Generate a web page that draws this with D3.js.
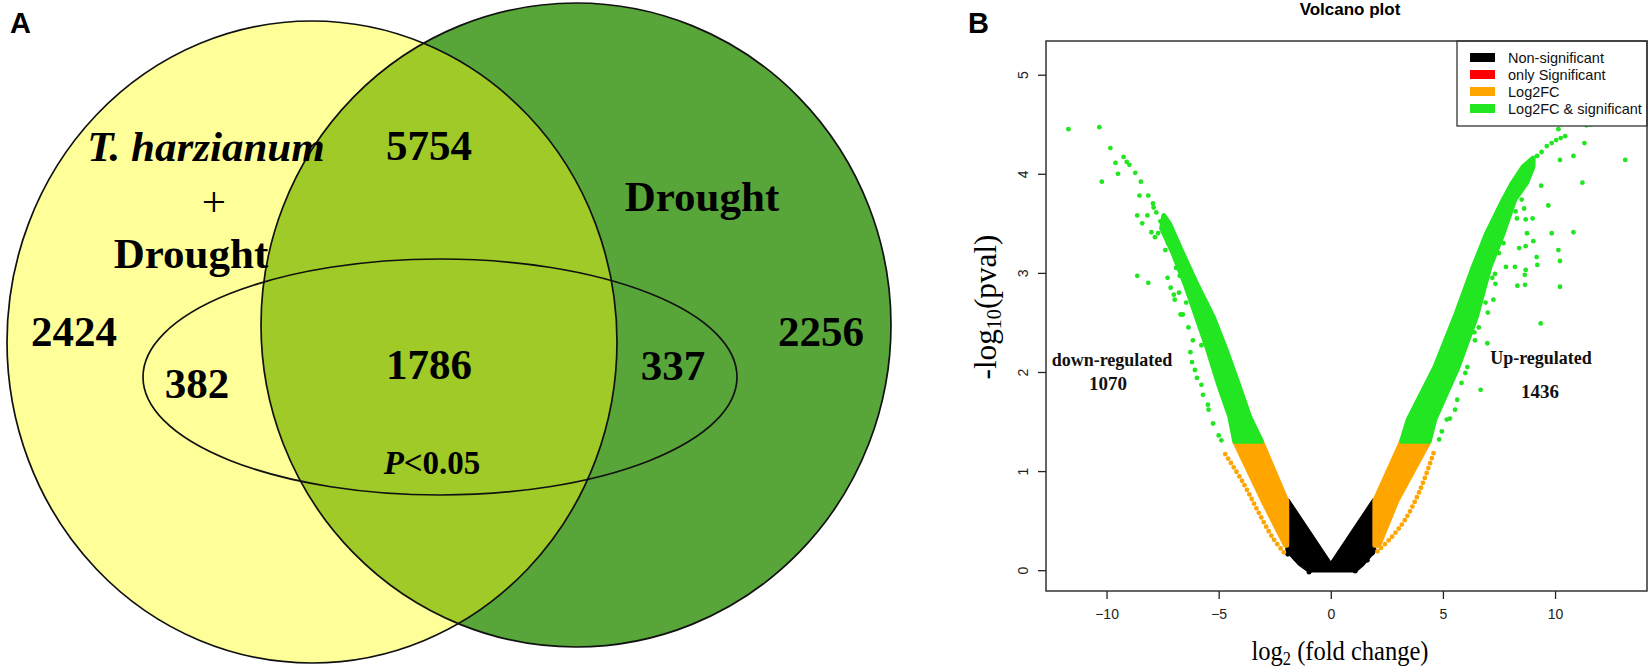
<!DOCTYPE html>
<html>
<head>
<meta charset="utf-8">
<script src="https://cdn.jsdelivr.net/npm/d3@7"></script>
<style>
  body { margin: 0; background: #fff; }
  svg { display: block; }
</style>
</head>
<body>
<div id="chart"></div>
<script>
// ---------- panel A : Venn counts ----------
const vennRegions = ["thOnly", "both", "droughtOnly", "thP", "allP", "droughtP"]
const vennValues = [2424, 5754, 2256, 382, 1786, 337]

// ---------- panel B : volcano plot ----------
const xTicks = [-10, -5, 0, 5, 10]
const yTicks = [0, 1, 2, 3, 4, 5]
const xDomain = [-12.7, 14.1]
const yDomain = [-0.21, 5.34]
const legendLabels = ["Non-significant", "only Significant", "Log2FC", "Log2FC & significant"]
const legendColors = ["#000000", "#ff0000", "#ffa500", "#22e622"]
const regCounts = { down: 1070, up: 1436 }

// dense clouds of points, read as outlines of point centres (log2FC, -log10 p)
const blackCloud = [[-1.92, 0.70], [0, 0.05], [1.92, 0.70], [1.92, 0.20], [1.4, 0.06], [1.09, 0.0],
  [-0.97, 0.0], [-1.4, 0.07], [-1.92, 0.20]]
const orangeCloudLeft = [[-1.96, 0.70], [-3.09, 1.30], [-4.29, 1.30], [-3.03, 0.70], [-2.02, 0.25], [-1.96, 0.25]]
const orangeCloudRight = [[1.96, 0.70], [3.15, 1.30], [4.39, 1.30], [2.95, 0.70], [2.14, 0.25], [1.96, 0.25]]
const greenCloudLeft = [[-3.09, 1.30], [-3.62, 1.55], [-4.14, 1.89], [-4.66, 2.22], [-5.25, 2.56], [-6.0, 2.90],
  [-6.67, 3.23], [-7.2, 3.50], [-7.45, 3.58], [-7.55, 3.45], [-7.04, 3.20], [-6.52, 2.90], [-6.0, 2.56],
  [-5.48, 2.22], [-5.03, 1.89], [-4.51, 1.55], [-4.29, 1.30]]
const greenCloudRight = [[3.15, 1.30], [3.45, 1.52], [4.64, 2.05], [5.54, 2.56], [6.35, 3.06], [6.95, 3.40],
  [7.69, 3.74], [8.10, 3.91], [8.57, 4.07], [9.03, 4.16], [9.02, 4.07], [8.74, 3.91], [8.21, 3.74],
  [7.69, 3.40], [7.10, 3.06], [6.50, 2.56], [5.68, 2.05], [4.64, 1.52], [4.39, 1.30]]

// chains of orange points just outside the clouds
const orangeChainLeft = [[-2.1, 0.18], [-2.6, 0.33], [-3.26, 0.60], [-3.93, 0.89], [-4.79, 1.20]]
const orangeChainRight = [[2.08, 0.19], [2.7, 0.33], [3.34, 0.52], [4.0, 0.82], [4.61, 1.20]]

const blackPoints = [[-1.92, 0.16], [-1.69, 0.17], [-1.6, 0.12], [-0.97, -0.02], [-0.9, 0.0],
  [1.09, -0.01], [1.63, 0.10], [1.85, 0.17]]

const greenPointsLeft = [[-11.7, 4.45], [-10.32, 4.47], [-9.83, 4.26], [-9.6, 4.11], [-9.49, 4.0], [-10.21, 3.92],
  [-9.24, 4.17], [-9.1, 4.12], [-8.98, 4.09], [-8.72, 4.01], [-8.47, 3.92], [-8.53, 3.78], [-8.14, 3.78],
  [-7.93, 3.70], [-7.90, 3.66], [-7.78, 3.61], [-8.63, 3.58], [-8.18, 3.58], [-8.41, 3.50], [-8.0, 3.41],
  [-7.84, 3.36], [-7.38, 3.23], [-8.63, 2.97], [-8.14, 2.90], [-7.28, 2.95], [-7.14, 2.85], [-6.96, 2.73],
  [-7.0, 2.78], [-6.74, 2.97], [-6.77, 2.80], [-6.70, 2.58], [-6.6, 2.58], [-6.15, 2.32], [-5.77, 2.27],
  [-6.26, 2.20], [-6.19, 2.10], [-6.06, 2.02], [-5.97, 1.94], [-5.77, 1.87], [-5.70, 1.77], [-5.48, 1.67],
  [-5.45, 1.62], [-5.25, 1.48], [-5.0, 1.36], [-4.88, 1.31], [-7.6, 3.52], [-7.7, 3.40], [-7.25, 3.30],
  [-6.9, 3.05], [-6.45, 2.70], [-6.35, 2.45], [-6.9, 3.15]]

const greenPointsRight = [[13.13, 4.14], [11.31, 4.31], [10.82, 4.18], [10.22, 4.14], [11.22, 3.91], [9.38, 3.88],
  [9.7, 3.68], [8.51, 3.74], [8.62, 3.65], [8.24, 3.62], [9.0, 3.55], [8.69, 3.54], [8.3, 3.55], [9.85, 3.40],
  [10.82, 3.41], [8.75, 3.40], [9.03, 3.32], [8.69, 3.27], [8.4, 3.25], [10.15, 3.23], [10.22, 3.12],
  [9.18, 3.16], [9.21, 3.08], [8.69, 3.03], [8.65, 2.98], [8.21, 3.06], [7.81, 3.06], [7.32, 2.99],
  [8.32, 2.87], [8.66, 2.88], [10.22, 2.86], [7.34, 2.89], [7.25, 2.73], [9.36, 2.49], [6.98, 2.29],
  [6.43, 2.32], [6.4, 2.40], [6.6, 2.45], [6.09, 2.05], [6.0, 1.99], [5.83, 1.89], [5.64, 1.72],
  [5.54, 1.62], [6.68, 1.82], [5.31, 1.53], [5.17, 1.52], [4.95, 1.40], [4.83, 1.32],
  [9.2, 4.18], [9.4, 4.22], [9.63, 4.28], [9.85, 4.31], [10.05, 4.34], [10.25, 4.36], [10.45, 4.38],
  [10.15, 4.45], [11.4, 4.49], [11.6, 4.50], [7.5, 3.2], [7.7, 3.3], [7.2, 2.95], [6.9, 2.7], [7.0, 2.6]]

const W = 1650, H = 668
const serif = "'Liberation Serif', 'Times New Roman', serif"
const sans = "'Liberation Sans', Arial, sans-serif"

const svg = d3.select("#chart").append("svg")
  .attr("width", W).attr("height", H)
  .attr("viewBox", [0, 0, W, H])

// ================= panel A =================
const yellowE = { cx: 312, cy: 342, rx: 305, ry: 321 }
const greenE = { cx: 576, cy: 325, rx: 315, ry: 322 }
const pE = { cx: 440, cy: 377, rx: 297, ry: 118 }

const venn = svg.append("g")

svg.append("defs").append("clipPath").attr("id", "greenClip")
  .append("ellipse").attr("cx", greenE.cx).attr("cy", greenE.cy).attr("rx", greenE.rx).attr("ry", greenE.ry)

function ell(g, e) {
  return g.append("ellipse").attr("cx", e.cx).attr("cy", e.cy).attr("rx", e.rx).attr("ry", e.ry)
}
ell(venn, yellowE).attr("fill", "#ffff99")
ell(venn, greenE).attr("fill", "#58a63a")
ell(venn, yellowE).attr("fill", "#9fca28").attr("clip-path", "url(#greenClip)")
for (const e of [yellowE, greenE, pE]) {
  ell(venn, e).attr("fill", "none").attr("stroke", "#111").attr("stroke-width", 1.7)
}

// set names
const setLab = venn.append("g").attr("font-family", serif).attr("font-weight", "bold")
  .attr("font-size", 43).attr("text-anchor", "middle").attr("fill", "#000")
setLab.append("text").attr("x", 206).attr("y", 161).attr("font-style", "italic").text("T. harzianum")
setLab.append("text").attr("x", 214).attr("y", 216).attr("font-weight", "normal").text("+")
setLab.append("text").attr("x", 191).attr("y", 268).text("Drought")
setLab.append("text").attr("x", 702).attr("y", 211).text("Drought")

// region counts
const regionPos = {
  thOnly: [74, 346], both: [429, 160], droughtOnly: [821, 346],
  thP: [197, 398], allP: [429, 379], droughtP: [673, 380]
}
venn.append("g").attr("font-family", serif).attr("font-weight", "bold")
  .attr("font-size", 43).attr("text-anchor", "middle")
  .selectAll("text").data(vennRegions).join("text")
  .attr("x", d => regionPos[d][0]).attr("y", d => regionPos[d][1])
  .text((d, i) => vennValues[i])

const pLab = venn.append("text").attr("x", 432).attr("y", 474).attr("text-anchor", "middle")
  .attr("font-family", serif).attr("font-weight", "bold").attr("font-size", 33)
pLab.append("tspan").attr("font-style", "italic").text("P")
pLab.append("tspan").text("<0.05")

svg.append("text").attr("x", 10).attr("y", 33).attr("font-family", sans).attr("font-weight", "bold")
  .attr("font-size", 29).text("A")

// ================= panel B =================
const plot = { left: 1046, right: 1647, top: 41, bottom: 591 }
const x = d3.scaleLinear().domain(xDomain).range([plot.left, plot.right])
const y = d3.scaleLinear().domain(yDomain).range([plot.bottom, plot.top])

const vol = svg.append("g")
const cloudLine = d3.line().x(d => x(d[0])).y(d => y(d[1])).curve(d3.curveLinearClosed)
const chainLine = d3.line().x(d => x(d[0])).y(d => y(d[1])).curve(d3.curveCatmullRom)
const dotR = 2.4

function cloud(pts, color) {
  vol.append("path").datum(pts).attr("d", cloudLine)
    .attr("fill", color).attr("stroke", color)
    .attr("stroke-width", dotR * 2).attr("stroke-linejoin", "round")
}
function chain(pts, color) {
  vol.append("path").datum(pts).attr("d", chainLine)
    .attr("fill", "none").attr("stroke", color)
    .attr("stroke-width", dotR * 2).attr("stroke-linecap", "round")
    .attr("stroke-dasharray", "0 5.2")
}
function dots(pts, color) {
  vol.append("g").attr("fill", color).selectAll("circle").data(pts).join("circle")
    .attr("cx", d => x(d[0])).attr("cy", d => y(d[1])).attr("r", dotR)
}

cloud(blackCloud, legendColors[0])
dots(blackPoints, legendColors[0])
cloud(orangeCloudLeft, legendColors[2])
cloud(orangeCloudRight, legendColors[2])
chain(orangeChainLeft, legendColors[2])
chain(orangeChainRight, legendColors[2])
cloud(greenCloudLeft, legendColors[3])
cloud(greenCloudRight, legendColors[3])
dots(greenPointsLeft, legendColors[3])
dots(greenPointsRight, legendColors[3])

// axes
const yAxis = svg.append("g").attr("transform", `translate(${plot.left},0)`)
  .call(d3.axisLeft(y).tickValues(yTicks).tickSize(8).tickFormat(d3.format("d")))
yAxis.select(".domain").remove()
yAxis.selectAll("text").attr("x", 0).attr("y", -18).attr("dy", 0)
  .attr("transform", "rotate(-90)").attr("text-anchor", "middle")

const xAxis = svg.append("g").attr("transform", `translate(0,${plot.bottom})`)
  .call(d3.axisBottom(x).tickValues(xTicks).tickSize(8).tickFormat(d3.format("d")))
xAxis.select(".domain").remove()
xAxis.selectAll("text").attr("y", 18)

svg.selectAll(".tick line").attr("stroke", "#222").attr("stroke-width", 1.3)
svg.selectAll(".tick text").attr("font-family", sans).attr("font-size", 14).attr("fill", "#222")

// legend
const leg = svg.append("g")
leg.append("rect").attr("x", 1457).attr("y", plot.top).attr("width", plot.right - 1457).attr("height", 85)
  .attr("fill", "#fff").attr("stroke", "#333").attr("stroke-width", 1.3)
const legRow = leg.selectAll("g").data(legendLabels).join("g")
  .attr("transform", (d, i) => `translate(1470,${57.5 + i * 17})`)
legRow.append("rect").attr("x", 0).attr("y", -4.5).attr("width", 25).attr("height", 9)
  .attr("fill", (d, i) => legendColors[i])
legRow.append("text").attr("x", 38).attr("dy", "0.35em").attr("font-family", sans)
  .attr("font-size", 14.5).attr("fill", "#111").text(d => d)

// plot box
svg.append("rect").attr("x", plot.left).attr("y", plot.top)
  .attr("width", plot.right - plot.left).attr("height", plot.bottom - plot.top)
  .attr("fill", "none").attr("stroke", "#333").attr("stroke-width", 1.5)

// titles and labels
svg.append("text").attr("x", 1350).attr("y", 15).attr("text-anchor", "middle")
  .attr("font-family", sans).attr("font-weight", "bold").attr("font-size", 17).text("Volcano plot")
svg.append("text").attr("x", 968).attr("y", 33).attr("font-family", sans).attr("font-weight", "bold")
  .attr("font-size", 29).text("B")

const xl = svg.append("text").attr("x", 1340).attr("y", 660).attr("text-anchor", "middle")
  .attr("font-family", serif).attr("font-size", 27)
  .attr("textLength", 177).attr("lengthAdjust", "spacingAndGlyphs")
xl.append("tspan").text("log")
xl.append("tspan").attr("font-size", 18).attr("dy", 5).text("2")
xl.append("tspan").attr("dy", -5).text(" (fold change)")

const yl = svg.append("text").attr("transform", "translate(996,307) rotate(-90)")
  .attr("text-anchor", "middle").attr("font-family", serif).attr("font-size", 31)
  .attr("textLength", 145).attr("lengthAdjust", "spacingAndGlyphs")
yl.append("tspan").text("-log")
yl.append("tspan").attr("font-size", 20).attr("dy", 5).text("10")
yl.append("tspan").attr("dy", -5).text("(pval)")

const reg = svg.append("g").attr("font-family", serif).attr("font-weight", "bold")
  .attr("text-anchor", "middle").attr("fill", "#111")
reg.append("text").attr("x", 1112).attr("y", 366).attr("font-size", 18).text("down-regulated")
reg.append("text").attr("x", 1108).attr("y", 390).attr("font-size", 19).text(regCounts.down)
reg.append("text").attr("x", 1541).attr("y", 364).attr("font-size", 18).text("Up-regulated")
reg.append("text").attr("x", 1540).attr("y", 398).attr("font-size", 19).text(regCounts.up)
</script>
</body>
</html>
